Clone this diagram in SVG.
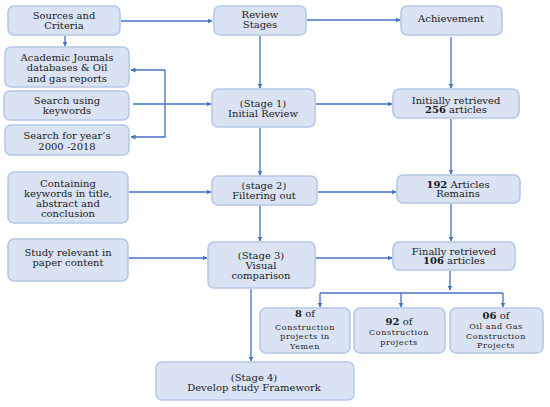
<svg xmlns="http://www.w3.org/2000/svg" width="550" height="407" viewBox="0 0 550 407">
<defs>
<style>
.box{fill:#dae3f3;stroke:#b4c7e7;stroke-width:1.5}
.t{font-family:"DejaVu Serif","Liberation Serif",serif;font-size:10px;fill:#1a1a1a;text-anchor:middle}
.s{font-size:8px;letter-spacing:0.6px}
.b{font-weight:bold}
.ln{fill:none;stroke:#4472c4;stroke-width:1.3}
</style>
<marker id="ah" viewBox="0 0 10 10" refX="9" refY="5" markerWidth="5" markerHeight="5" orient="auto" markerUnits="userSpaceOnUse">
<path d="M0,0 L10,5 L0,10 z" fill="#4472c4"/>
</marker>
</defs>
<rect width="550" height="407" fill="#fff"/>
<g id="connectors">
<path class="ln" d="M65,36 V46" marker-end="url(#ah)"/>
<path class="ln" d="M121,21 H212" marker-end="url(#ah)"/>
<path class="ln" d="M307,20 H400" marker-end="url(#ah)"/>
<path class="ln" d="M260,36 V88" marker-end="url(#ah)"/>
<path class="ln" d="M451,37 V88" marker-end="url(#ah)"/>
<path class="ln" d="M133,104 H211" marker-end="url(#ah)"/>
<path class="ln" d="M165,70 H131" marker-end="url(#ah)"/>
<path class="ln" d="M165,70 V137 H131" marker-end="url(#ah)"/>
<path class="ln" d="M316,104 H392" marker-end="url(#ah)"/>
<path class="ln" d="M260,128 V175" marker-end="url(#ah)"/>
<path class="ln" d="M451,119 V174" marker-end="url(#ah)"/>
<path class="ln" d="M129,192 H211" marker-end="url(#ah)"/>
<path class="ln" d="M318,192 H396" marker-end="url(#ah)"/>
<path class="ln" d="M260,206 V241" marker-end="url(#ah)"/>
<path class="ln" d="M451,204 V241" marker-end="url(#ah)"/>
<path class="ln" d="M129,258 H207" marker-end="url(#ah)"/>
<path class="ln" d="M316,258 H392" marker-end="url(#ah)"/>
<path class="ln" d="M251,289 V361" marker-end="url(#ah)"/>
<path class="ln" d="M450,271 V290" marker-end="url(#ah)"/>
<path class="ln" d="M320,293 H503"/>
<path class="ln" d="M320,293 V307" marker-end="url(#ah)"/>
<path class="ln" d="M401,293 V307" marker-end="url(#ah)"/>
<path class="ln" d="M503,293 V307" marker-end="url(#ah)"/>
</g>
<g id="sources">
<rect class="box" x="8" y="6" width="112" height="29" rx="6"/>
<text class="t" x="64" y="18.5">Sources and</text>
<text class="t" x="64" y="28.5">Criteria</text>
</g>
<g id="academic">
<rect class="box" x="5" y="47" width="124" height="40" rx="6"/>
<text class="t" x="67" y="60.5">Academic Joumals</text>
<text class="t" x="67" y="71">databases &amp; Oil</text>
<text class="t" x="67" y="81.5">and gas reports</text>
</g>
<g id="keywords">
<rect class="box" x="4" y="91" width="125" height="29" rx="6"/>
<text class="t" x="67" y="103.5">Search using</text>
<text class="t" x="67" y="113.5">keywords</text>
</g>
<g id="years">
<rect class="box" x="5" y="125" width="124" height="30" rx="6"/>
<text class="t" x="67" y="138.5">Search for year’s</text>
<text class="t" x="67" y="149.5">2000 -2018</text>
</g>
<g id="review">
<rect class="box" x="214" y="6" width="92" height="29" rx="6"/>
<text class="t" x="260" y="18">Review</text>
<text class="t" x="260" y="28">Stages</text>
</g>
<g id="achievement">
<rect class="box" x="401" y="6" width="101" height="29" rx="6"/>
<text class="t" x="451" y="21.5">Achievement</text>
</g>
<g id="stage1">
<rect class="box" x="212" y="89" width="103" height="38" rx="6"/>
<text class="t" x="263" y="107">(Stage 1)</text>
<text class="t" x="263" y="116.5">Initial Review</text>
</g>
<g id="initially">
<rect class="box" x="393" y="89" width="126" height="29" rx="6"/>
<text class="t" x="456" y="103.5">Initially retrieved</text>
<text class="t" x="456" y="113"><tspan class="b">256</tspan> articles</text>
</g>
<g id="containing">
<rect class="box" x="8" y="172" width="120" height="51" rx="6"/>
<text class="t" x="68" y="186.5">Containing</text>
<text class="t" x="68" y="196.5">keywords in title,</text>
<text class="t" x="68" y="206.5">abstract and</text>
<text class="t" x="68" y="216.5">conclusion</text>
</g>
<g id="stage2">
<rect class="box" x="212" y="176" width="105" height="29" rx="6"/>
<text class="t" x="264" y="188.5">(stage 2)</text>
<text class="t" x="264" y="198.5">Filtering out</text>
</g>
<g id="remains">
<rect class="box" x="397" y="175" width="123" height="28" rx="6"/>
<text class="t" x="458" y="187.5"><tspan class="b">192</tspan> Articles</text>
<text class="t" x="458" y="197">Remains</text>
</g>
<g id="study">
<rect class="box" x="8" y="239" width="120" height="42" rx="6"/>
<text class="t" x="68" y="255.5">Study relevant in</text>
<text class="t" x="68" y="265.5">paper content</text>
</g>
<g id="stage3">
<rect class="box" x="208" y="242" width="107" height="46" rx="6"/>
<text class="t" x="261" y="258.5">(Stage 3)</text>
<text class="t" x="261" y="268.5">Visual</text>
<text class="t" x="261" y="279">comparison</text>
</g>
<g id="finally">
<rect class="box" x="393" y="242" width="122" height="28" rx="6"/>
<text class="t" x="454" y="254.5">Finally retrieved</text>
<text class="t" x="454" y="264"><tspan class="b">106</tspan> articles</text>
</g>
<g id="yemen">
<rect class="box" x="260" y="308" width="90" height="45" rx="6"/>
<text class="t" x="305" y="317" font-size="9.5"><tspan class="b">8</tspan> of</text>
<text class="t s" x="305" y="329.5">Construction</text>
<text class="t s" x="305" y="339">projects in</text>
<text class="t s" x="305" y="348.5">Yemen</text>
</g>
<g id="construction">
<rect class="box" x="354" y="308" width="91" height="45" rx="6"/>
<text class="t" x="399" y="325" font-size="9.5"><tspan class="b">92</tspan> of</text>
<text class="t s" x="399" y="335">Construction</text>
<text class="t s" x="399" y="344.5">projects</text>
</g>
<g id="oilgas">
<rect class="box" x="450" y="308" width="93" height="45" rx="6"/>
<text class="t" x="496" y="319" font-size="9.5"><tspan class="b">06</tspan> of</text>
<text class="t s" x="496" y="329">Oil and Gas</text>
<text class="t s" x="496" y="338.5">Construction</text>
<text class="t s" x="496" y="348">Projects</text>
</g>
<g id="stage4">
<rect class="box" x="156" y="362" width="198" height="38" rx="6"/>
<text class="t" x="254" y="380.5">(Stage 4)</text>
<text class="t" x="254" y="390.5">Develop study Framework</text>
</g>
</svg>
